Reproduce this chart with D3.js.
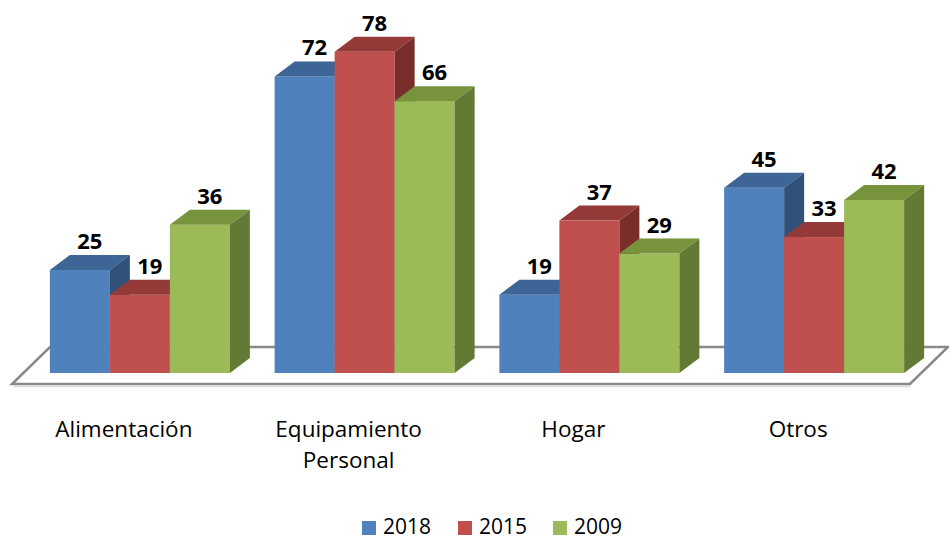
<!DOCTYPE html>
<html>
<head>
<meta charset="utf-8">
<script src="https://cdn.jsdelivr.net/npm/d3@7"></script>
<style>
  body { margin: 0; background: #fff; }
  svg { font-family: "Open Sans", Lato, sans-serif; }
</style>
</head>
<body>
<div id="chart"></div>
<script>
let categories = ["Alimentación", "Equipamiento Personal", "Hogar", "Otros"];
let series = ["2018", "2015", "2009"];
let values2018 = [25, 72, 19, 45];
let values2015 = [19, 78, 37, 33];
let values2009 = [36, 66, 29, 42];
let colors = ["#4F81BD", "#C0504D", "#9BBB59"];
let topColors = ["#3D6595", "#943A38", "#77933C"];
let sideColors = ["#30517A", "#7A2E2C", "#637A35"];

let allValues = [values2018, values2015, values2009];

let width = 949, height = 541;
let svg = d3.select('#chart')
    .append('svg')
    .attr('width', width)
    .attr('height', height);

let x0 = d3.scaleBand().domain(categories).range([27.5, 926.5]);
let x1 = d3.scaleBand().domain(series).range([0, 180]);
let y = d3.scaleLinear().domain([0, 80]).range([373, 43.5]);

// depth offsets
let ddx = 20, ddy = -15;

// floor
let fl = { x0: 12, y0: 384, x1: 910, dx: 38, dy: -37 };
svg.append('path')
    .attr('d', "M" + fl.x0 + "," + fl.y0 + "L" + fl.x1 + "," + fl.y0 +
        "L" + (fl.x1 + fl.dx) + "," + (fl.y0 + fl.dy) +
        "L" + (fl.x0 + fl.dx) + "," + (fl.y0 + fl.dy) + "Z")
    .attr('fill', '#fff')
    .attr('stroke', '#898989')
    .attr('stroke-width', 2.5);
svg.append('line')
    .attr('x1', fl.x0 + 2).attr('x2', fl.x1)
    .attr('y1', fl.y0 + 2.5).attr('y2', fl.y0 + 2.5)
    .attr('stroke', '#d9d9d9').attr('stroke-width', 1.5);

let bars = svg.append('g');
let labels = svg.append('g');

categories.forEach(function (c, i) {
    let gx = x0(c) + (x0.bandwidth() - 180) / 2;
    series.forEach(function (s, j) {
        let v = allValues[j][i];
        let xl = gx + x1(s), xr = xl + x1.bandwidth();
        let yt = y(v), yb = y(0);
        bars.append('rect')
            .attr('x', xl).attr('y', yt)
            .attr('width', x1.bandwidth()).attr('height', yb - yt)
            .attr('fill', colors[j]);
        bars.append('path')
            .attr('d', "M" + xl + "," + yt + "L" + (xl + ddx) + "," + (yt + ddy) +
                "L" + (xr + ddx) + "," + (yt + ddy) + "L" + xr + "," + yt + "Z")
            .attr('fill', topColors[j]);
        bars.append('path')
            .attr('d', "M" + xr + "," + yt + "L" + (xr + ddx) + "," + (yt + ddy) +
                "L" + (xr + ddx) + "," + (yb + ddy) + "L" + xr + "," + yb + "Z")
            .attr('fill', sideColors[j]);
        labels.append('text')
            .attr('x', xl + x1.bandwidth() / 2 + ddx / 2)
            .attr('y', yt + ddy - 6)
            .attr('text-anchor', 'middle')
            .style('font-size', '22px')
            .style('font-weight', 'bold')
            .attr('fill', '#000')
            .text(v);
    });

    // category labels
    let words = c === "Equipamiento Personal" ? ["Equipamiento", "Personal"] : [c];
    let cx = x0(c) + x0.bandwidth() / 2 - 16;
    let t = svg.append('text')
        .attr('x', cx)
        .attr('y', 437)
        .attr('text-anchor', 'middle')
        .style('font-size', '22.5px')
        .attr('fill', '#000');
    words.forEach(function (w, k) {
        t.append('tspan')
            .attr('x', cx)
            .attr('dy', k === 0 ? 0 : 31)
            .text(w);
    });
});

// legend
let legendX = [362, 458, 553];
series.forEach(function (s, j) {
    svg.append('rect')
        .attr('x', legendX[j]).attr('y', 521)
        .attr('width', 14).attr('height', 14)
        .attr('fill', colors[j]);
    svg.append('text')
        .attr('x', legendX[j] + 21).attr('y', 534)
        .style('font-size', '21px')
        .attr('fill', '#000')
        .text(s);
});
</script>
</body>
</html>
